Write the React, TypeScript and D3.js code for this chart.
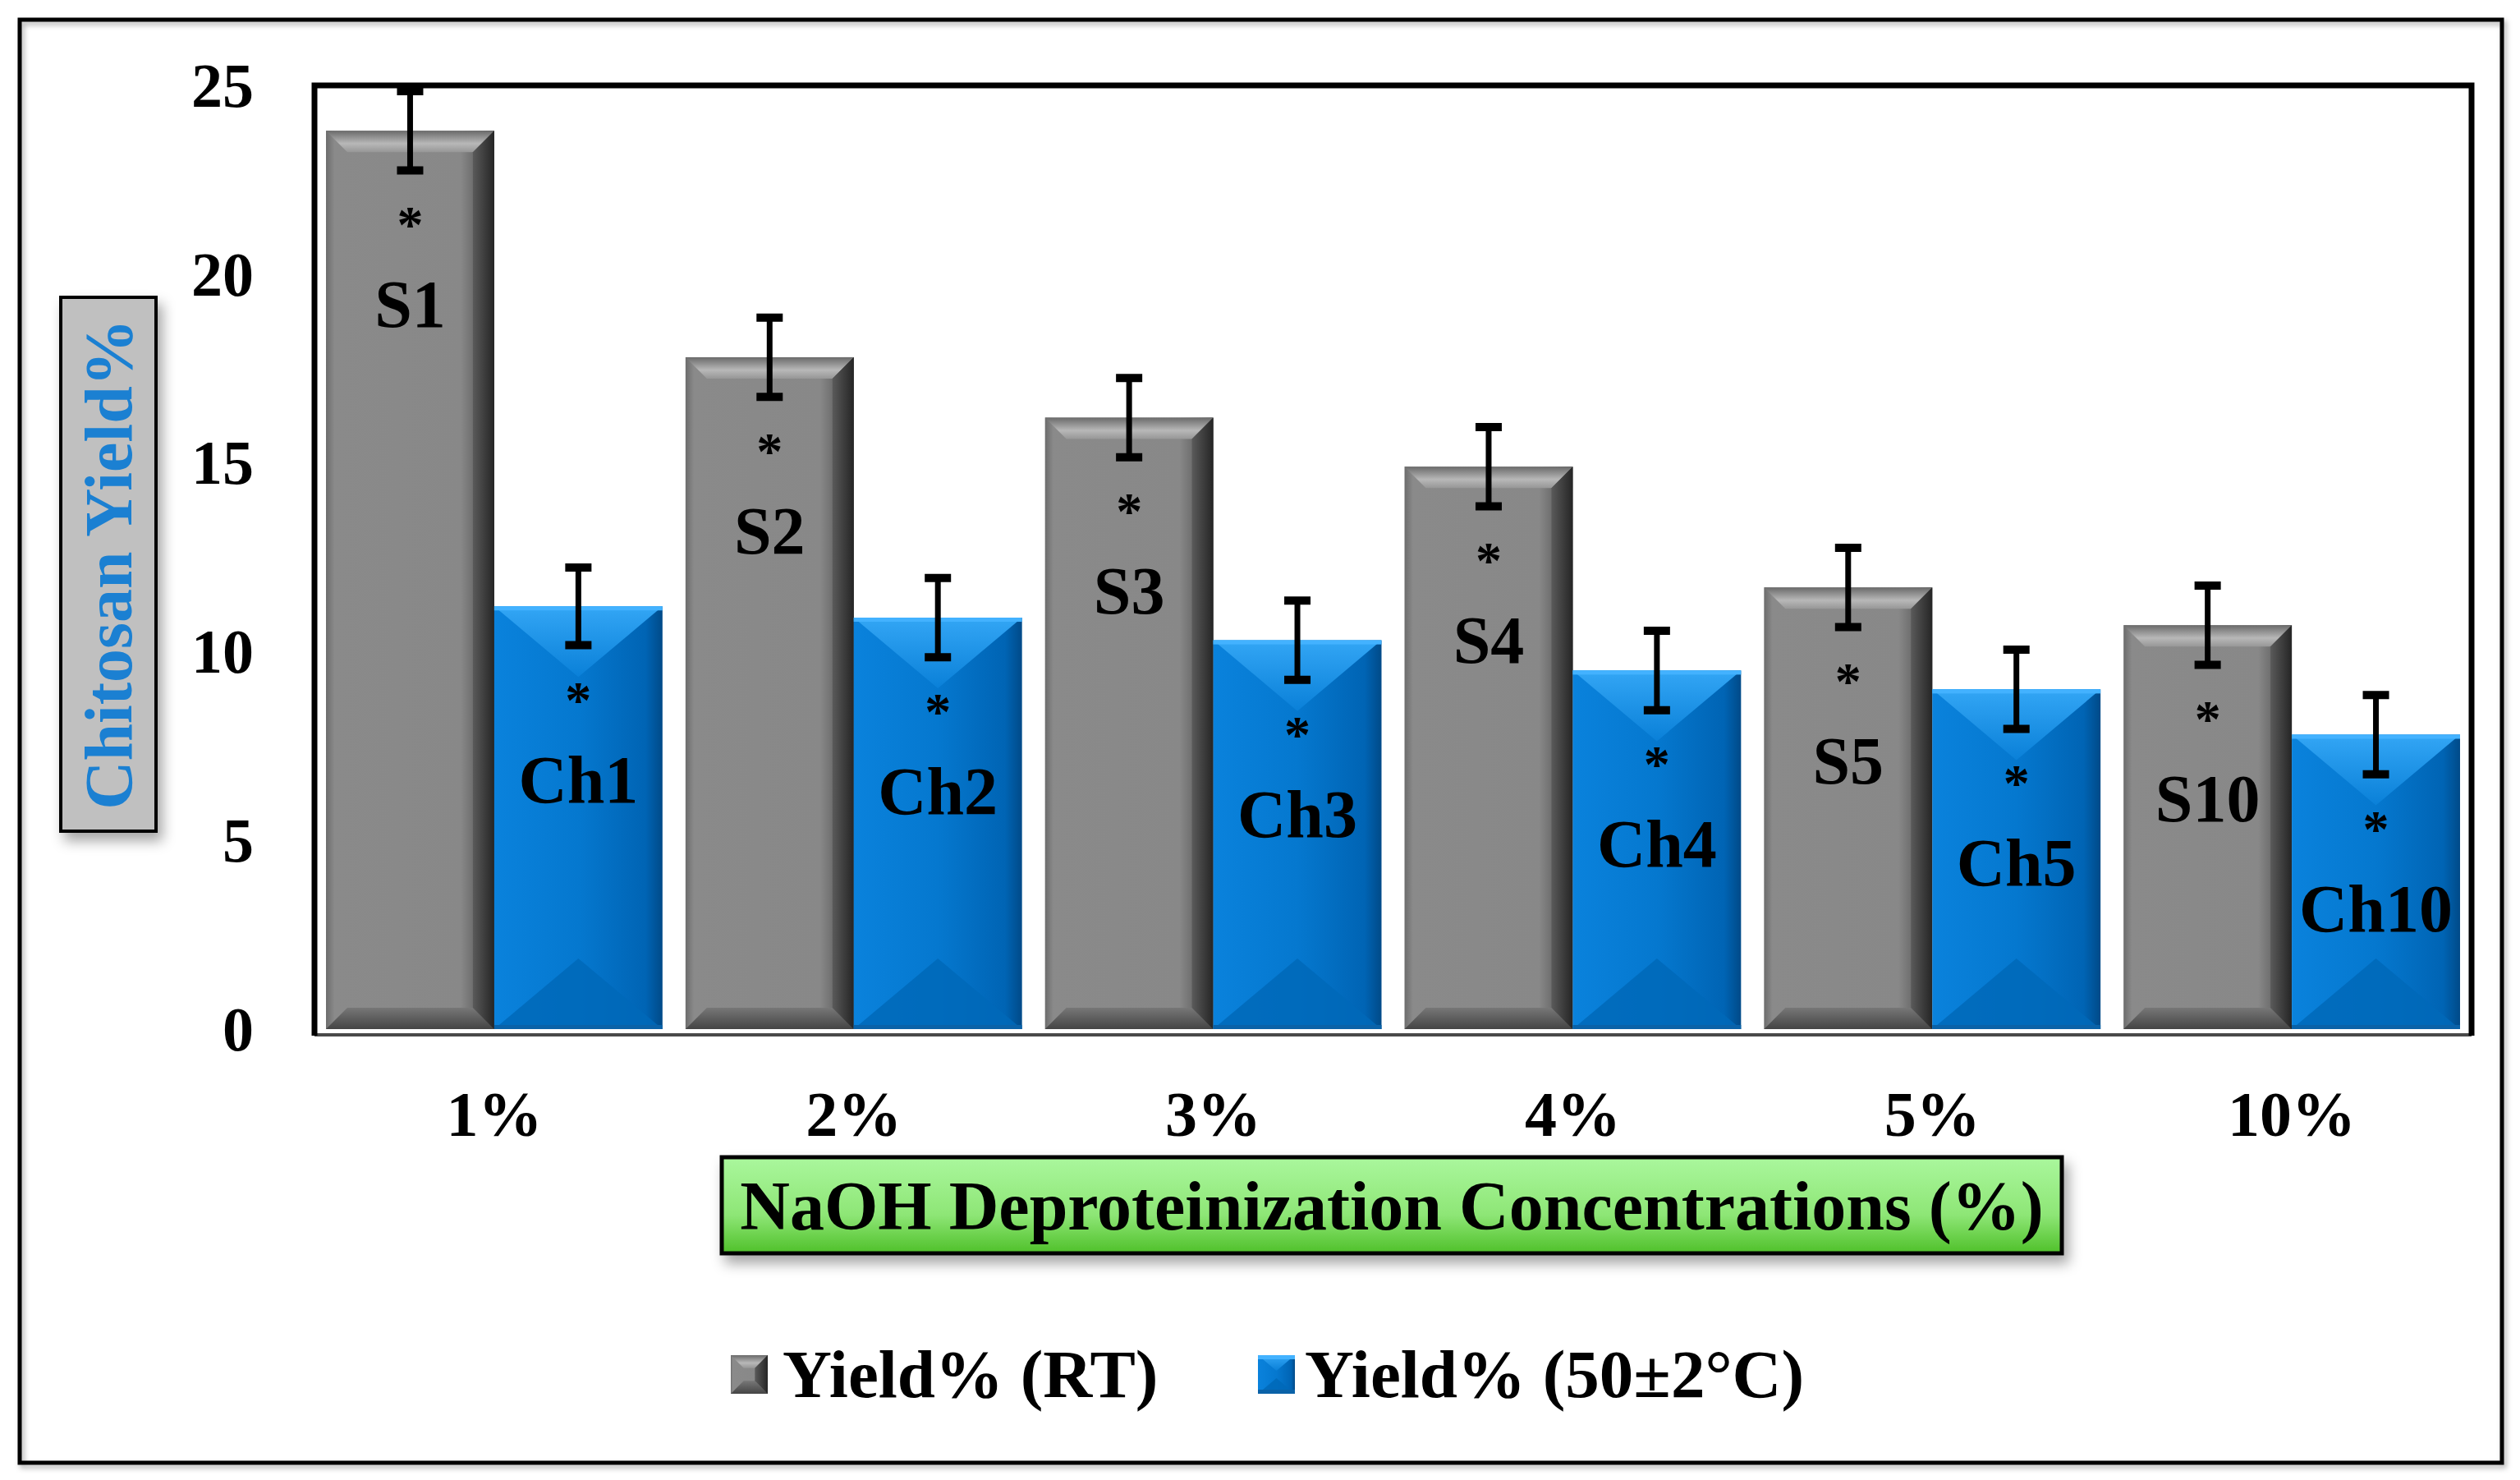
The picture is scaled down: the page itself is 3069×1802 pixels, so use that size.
import * as d3 from "d3";

const categories = ["1%", "2%", "3%", "4%", "5%", "10%"];
const rtYield = [23.8, 17.8, 16.2, 14.9, 11.7, 10.7];
const rtError = [1.05, 1.05, 1.05, 1.05, 1.05, 1.05];
const hotYield = [11.2, 10.9, 10.3, 9.5, 9.0, 7.8];
const hotError = [1.03, 1.05, 1.05, 1.05, 1.05, 1.05];
const rtLabels = ["S1", "S2", "S3", "S4", "S5", "S10"];
const hotLabels = ["Ch1", "Ch2", "Ch3", "Ch4", "Ch5", "Ch10"];
const seriesNames = ["Yield% (RT)", "Yield% (50\u00b12\u00b0C)"];
const yTicks = [0, 5, 10, 15, 20, 25];

const W = 3069;
const H = 1802;
const plot = { left: 383, top: 104, right: 3010, bottom: 1253 };
const font = "'Liberation Serif', 'Times New Roman', serif";

function GrayBar({ x, y, w, h }: { x: number; y: number; w: number; h: number }) {
  const b = Math.min(26, h / 3);
  return (
    <g>
      <rect x={x} y={y} width={w} height={h} fill="url(#grayBody)" />
      <polygon
        points={`${x},${y} ${x + w},${y} ${x + w - b},${y + b} ${x + b},${y + b}`}
        fill="url(#grayTop)"
      />
      <polygon
        points={`${x},${y + h} ${x + w},${y + h} ${x + w - b},${y + h - b} ${x + b},${y + h - b}`}
        fill="url(#grayBottom)"
      />
      <polygon
        points={`${x + w},${y} ${x + w},${y + h} ${x + w - b},${y + h - b} ${x + w - b},${y + b}`}
        fill="url(#grayRight)"
      />
    </g>
  );
}

function BlueBar({ x, y, w, h }: { x: number; y: number; w: number; h: number }) {
  const t = Math.min(w * 0.42, h / 2);
  return (
    <g>
      <rect x={x} y={y} width={w} height={h} fill="url(#blueBody)" />
      <polygon points={`${x},${y} ${x + w},${y} ${x + w / 2},${y + t}`} fill="url(#blueTop)" />
      <polygon
        points={`${x},${y + h} ${x + w},${y + h} ${x + w / 2},${y + h - t}`}
        fill="#0068b9"
        opacity={0.85}
      />
      <rect x={x} y={y} width={w} height={5} fill="#43b2ff" />
      <rect x={x} y={y + h - 5} width={w} height={5} fill="#0a62a8" />
    </g>
  );
}

function ErrorBar({ cx, y0, y1 }: { cx: number; y0: number; y1: number }) {
  return (
    <g stroke="#000">
      <line x1={cx} x2={cx} y1={y0} y2={y1} strokeWidth={7} />
      <line x1={cx - 16} x2={cx + 16} y1={y0} y2={y0} strokeWidth={10} />
      <line x1={cx - 16} x2={cx + 16} y1={y1} y2={y1} strokeWidth={10} />
    </g>
  );
}

export default function App() {
  const x = d3
    .scaleBand<string>()
    .domain(categories)
    .range([plot.left, plot.right])
    .paddingInner(0.064)
    .paddingOuter(0.032);
  const sub = d3.scaleBand<number>().domain([0, 1]).range([0, x.bandwidth()]);
  const y = d3.scaleLinear().domain([0, 25]).range([plot.bottom, plot.top]);
  const bw = sub.bandwidth();

  const series = [
    { values: rtYield, errors: rtError, labels: rtLabels, Bar: GrayBar },
    { values: hotYield, errors: hotError, labels: hotLabels, Bar: BlueBar },
  ];

  return (
    <svg
      width={W}
      height={H}
      viewBox={`0 0 ${W} ${H}`}
      style={{ position: "absolute", left: 0, top: 0, background: "#fff" }}
      fontFamily={font}
      fontWeight="bold"
    >
      <defs>
        <linearGradient id="grayBody" x1="0" x2="1" y1="0" y2="0">
          <stop offset="0" stopColor="#6c6c6c" />
          <stop offset="0.05" stopColor="#8a8a8a" />
          <stop offset="0.8" stopColor="#888" />
          <stop offset="0.93" stopColor="#5c5c5c" />
          <stop offset="1" stopColor="#2c2c2c" />
        </linearGradient>
        <linearGradient id="grayTop" x1="0" x2="0" y1="0" y2="1">
          <stop offset="0" stopColor="#6a6a6a" />
          <stop offset="0.6" stopColor="#b8b8b8" />
          <stop offset="1" stopColor="#979797" />
        </linearGradient>
        <linearGradient id="grayBottom" x1="0" x2="0" y1="0" y2="1">
          <stop offset="0" stopColor="#777" />
          <stop offset="1" stopColor="#444" />
        </linearGradient>
        <linearGradient id="grayRight" x1="0" x2="1" y1="0" y2="0">
          <stop offset="0" stopColor="#5a5a5a" />
          <stop offset="1" stopColor="#252525" />
        </linearGradient>
        <linearGradient id="blueBody" x1="0" x2="1" y1="0" y2="0">
          <stop offset="0" stopColor="#0a82dc" />
          <stop offset="0.5" stopColor="#0578cf" />
          <stop offset="0.9" stopColor="#0064b4" />
          <stop offset="1" stopColor="#004a88" />
        </linearGradient>
        <linearGradient id="blueTop" x1="0" x2="0" y1="0" y2="1">
          <stop offset="0" stopColor="#33a6f5" />
          <stop offset="1" stopColor="#0a80d8" />
        </linearGradient>
        <linearGradient id="greenBox" x1="0" x2="0" y1="0" y2="1">
          <stop offset="0" stopColor="#aaf79d" />
          <stop offset="0.6" stopColor="#8ee676" />
          <stop offset="1" stopColor="#4fc02a" />
        </linearGradient>
        <filter id="shadow" x="-10%" y="-20%" width="130%" height="160%">
          <feDropShadow dx="6" dy="10" stdDeviation="8" floodColor="#000" floodOpacity="0.35" />
        </filter>
        <filter id="softShadow" x="-5%" y="-5%" width="110%" height="110%">
          <feDropShadow dx="3" dy="4" stdDeviation="3" floodColor="#000" floodOpacity="0.3" />
        </filter>
      </defs>

      {/* outer frame */}
      <rect x={24} y={24} width={3023} height={1757} fill="none" stroke="#000" strokeWidth={5} filter="url(#softShadow)" />

      {/* bars */}
      {categories.map((c, i) => (
        <g key={c}>
          {series.map((s, k) => {
            const bx = (x(c) ?? 0) + (sub(k) ?? 0);
            const by = y(s.values[i]);
            return <s.Bar key={k} x={bx} y={by} w={bw} h={plot.bottom - by} />;
          })}
        </g>
      ))}

      {/* plot frame */}
      <line x1={plot.left} x2={plot.right} y1={plot.bottom + 3} y2={plot.bottom + 3} stroke="#fff" strokeWidth={3} />
      <line x1={plot.left} x2={plot.right} y1={plot.bottom + 7} y2={plot.bottom + 7} stroke="#4a4a4a" strokeWidth={4} />
      <path
        d={`M${plot.left},${plot.bottom + 8} V${plot.top} H${plot.right} V${plot.bottom + 8}`}
        fill="none"
        stroke="#000"
        strokeWidth={7}
      />

      {/* error bars and labels */}
      {categories.map((c, i) => (
        <g key={c}>
          {series.map((s, k) => {
            const cx = (x(c) ?? 0) + (sub(k) ?? 0) + bw / 2;
            const top = y(s.values[i]);
            return (
              <g key={k}>
                <ErrorBar cx={cx} y0={y(s.values[i] + s.errors[i])} y1={y(s.values[i] - s.errors[i])} />
                <text x={cx} y={top + 136} textAnchor="middle" fontSize={64} fill="#000">
                  *
                </text>
                <text x={cx} y={top + 239} textAnchor="middle" fontSize={82} fill="#000">
                  {s.labels[i]}
                </text>
              </g>
            );
          })}
        </g>
      ))}

      {/* y ticks */}
      {yTicks.map((t) => (
        <text key={t} x={309} y={y(t)} dy="0.34em" textAnchor="end" fontSize={76} fill="#000">
          {t}
        </text>
      ))}

      {/* x ticks */}
      {categories.map((c) => (
        <text key={c} x={(x(c) ?? 0) + x.bandwidth() / 2} y={1383} textAnchor="middle" fontSize={78} fill="#000">
          {c}
        </text>
      ))}

      {/* y title */}
      <rect x={74} y={362} width={116} height={650} fill="#c0c0c0" stroke="#000" strokeWidth={4} filter="url(#shadow)" />
      <text
        transform="translate(132,687) rotate(-90)"
        textAnchor="middle"
        dy="0.34em"
        fontSize={82}
        fill="#1b80d2"
      >
        Chitosan Yield%
      </text>

      {/* x title */}
      <rect x={879} y={1409} width={1632} height={117} fill="url(#greenBox)" stroke="#000" strokeWidth={5} filter="url(#shadow)" />
      <text x={1695} y={1468} dy="0.34em" textAnchor="middle" fontSize={84} fill="#000">
        NaOH Deproteinization Concentrations (%)
      </text>

      {/* legend */}
      <GrayBar x={890} y={1650} w={45} h={47} />
      <text x={953} y={1673} dy="0.34em" fontSize={83} fill="#000">
        {seriesNames[0]}
      </text>
      <BlueBar x={1532} y={1650} w={45} h={47} />
      <text x={1589} y={1673} dy="0.34em" fontSize={83} fill="#000">
        {seriesNames[1]}
      </text>
    </svg>
  );
}
